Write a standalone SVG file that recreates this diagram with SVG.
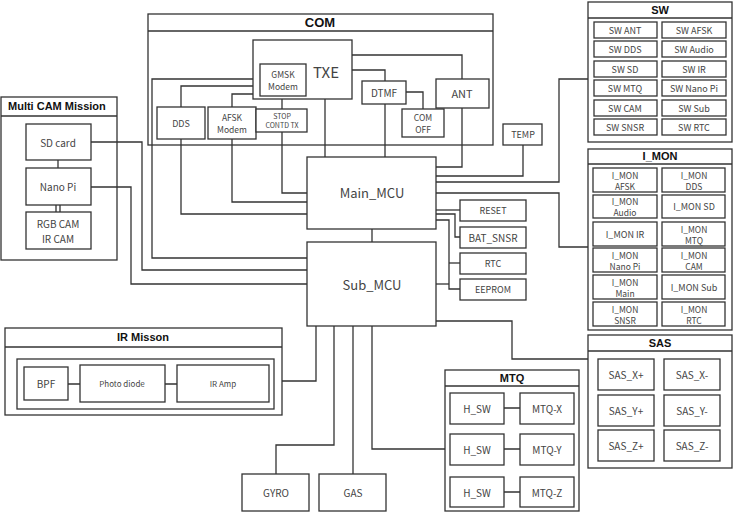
<svg xmlns="http://www.w3.org/2000/svg" width="733" height="512" viewBox="0 0 733 512">
<style>
rect{fill:#fff;stroke:#333;stroke-width:1.3}
rect.k{fill:none}
.c path,.c line{fill:none;stroke:#333;stroke-width:1.3}
line{stroke:#333;stroke-width:1.3}
text{font-family:"Noto Sans CJK JP","Liberation Sans",sans-serif;fill:#444;text-anchor:middle;dominant-baseline:central;font-size:10px}
.t{font-family:"Liberation Sans",Arial,sans-serif;font-weight:bold;fill:#111;font-size:11px}
.b{font-size:13px}
.s{font-size:8px}
.m{font-size:9px}
.n{font-size:8.5px}
</style>
<rect x="0" y="0" width="733" height="512" style="fill:#fff;stroke:none"/>
<g id="COM"><rect class="k" x="148" y="14" width="345" height="131"/><line x1="148" y1="31" x2="493" y2="31"/><text x="320" y="22" class="t" style="font-size:13px">COM</text></g>
<g id="MultiCAM"><rect class="k" x="1" y="97" width="116" height="163"/><line x1="1" y1="116" x2="117" y2="116"/><text x="8" y="106" class="t" style="text-anchor:start">Multi CAM Mission</text></g>
<g id="IR"><rect class="k" x="5" y="328" width="277" height="87"/><line x1="5" y1="347" x2="282" y2="347"/><text x="143" y="337" class="t">IR Misson</text><rect class="k" x="17" y="359" width="257" height="50"/></g>
<g id="SW"><rect class="k" x="588" y="2" width="144" height="140"/><line x1="588" y1="18" x2="732" y2="18"/><text x="660" y="10" class="t">SW</text></g>
<g id="I_MON"><rect class="k" x="588" y="149" width="144" height="181"/><line x1="588" y1="164" x2="732" y2="164"/><text x="660" y="156" class="t">I_MON</text></g>
<g id="SAS"><rect class="k" x="588" y="335" width="144" height="133"/><line x1="588" y1="351" x2="732" y2="351"/><text x="660" y="343" class="t">SAS</text></g>
<g id="MTQ"><rect class="k" x="445" y="370" width="134" height="141"/><line x1="445" y1="386" x2="579" y2="386"/><text x="512" y="378" class="t">MTQ</text></g>
<g class="c" id="connectors">
<path d="M260,79 H152 V258 H307"/>
<path d="M181,107 V86 H253"/>
<path d="M232,107 V94 H253"/>
<path d="M282,99 V109"/>
<path d="M352,70 H385 V81"/>
<path d="M352,55 H462 V79"/>
<path d="M406,92 H423 V109"/>
<path d="M325,99 V157"/>
<path d="M385,104 V157"/>
<path d="M462,108 V167 H436"/>
<path d="M372,229 V242"/>
<path d="M181,139 V214 H307"/>
<path d="M232,139 V202 H307"/>
<path d="M282,132 V193 H307"/>
<path d="M523,145 V176 H436"/>
<path d="M436,182 H559 V79 H588"/>
<path d="M436,193 H559 V247 H588"/>
<path d="M436,210 H460"/>
<path d="M436,214 H455 V237 H460"/>
<path d="M436,220 H449 V289 H460"/>
<path d="M449,263 H460"/>
<path d="M436,284 H449"/>
<path d="M91,142 H142 V270 H307"/>
<path d="M91,187 H131 V284 H307"/>
<path d="M58,160 V168"/>
<path d="M56,205 V212 M60,205 V212"/>
<path d="M68,384 H80 M165,384 H177"/>
<path d="M282,381 H316 V326"/>
<path d="M334,326 V445 H276 V474"/>
<path d="M353,326 V474"/>
<path d="M372,326 V449 H445"/>
<path d="M436,321 H512 V359 H588"/>
<path d="M504,408 H520 M504,449 H520 M504,492 H520"/>
</g>
<g id="TXE"><rect x="253" y="40" width="99" height="59"/><text x="326" y="71" style="font-size:15px">TXE</text></g>
<g id="GMSK"><rect x="260" y="64" width="46" height="32"/><text x="283" y="74" class="n">GMSK</text><text x="283" y="86" class="n">Modem</text></g>
<g id="DDS"><rect x="157" y="107" width="48" height="32"/><text x="181" y="123" class="m">DDS</text></g>
<g id="AFSK"><rect x="208" y="107" width="48" height="32"/><text x="232" y="117" class="n">AFSK</text><text x="232" y="129" class="n">Modem</text></g>
<g id="STOP"><rect x="256" y="109" width="51" height="23"/><text x="282" y="116" style="font-size:7px">STOP</text><text x="282" y="125" style="font-size:7px">CONTD TX</text></g>
<g id="DTMF"><rect x="362" y="81" width="44" height="23"/><text x="384" y="92">DTMF</text></g>
<g id="ANT"><rect x="436" y="79" width="53" height="29"/><text x="462" y="93" style="font-size:11px">ANT</text></g>
<g id="COMOFF"><rect x="402" y="109" width="42" height="28"/><text x="423" y="117" class="n">COM</text><text x="423" y="129" class="n">OFF</text></g>
<g id="TEMP"><rect x="503" y="124" width="39" height="21"/><text x="523" y="134" class="m">TEMP</text></g>
<g id="Main_MCU"><rect x="307" y="157" width="129" height="72"/><text x="372" y="192" class="b">Main_MCU</text></g>
<g id="Sub_MCU"><rect x="307" y="242" width="129" height="84"/><text x="372" y="284" class="b">Sub_MCU</text></g>
<g id="RESET"><rect x="460" y="200" width="66" height="21"/><text x="493" y="210" class="m">RESET</text></g>
<g id="BAT_SNSR"><rect x="460" y="227" width="66" height="21"/><text x="493" y="237">BAT_SNSR</text></g>
<g id="RTC"><rect x="460" y="253" width="66" height="21"/><text x="493" y="263" class="m">RTC</text></g>
<g id="EEPROM"><rect x="460" y="279" width="66" height="21"/><text x="493" y="289" class="m">EEPROM</text></g>
<g id="SDcard"><rect x="26" y="124" width="65" height="36"/><text x="58" y="142">SD card</text></g>
<g id="NanoPi"><rect x="26" y="168" width="65" height="37"/><text x="58" y="186">Nano Pi</text></g>
<g id="RGBCAM"><rect x="26" y="212" width="65" height="37"/><text x="58" y="223">RGB CAM</text><text x="58" y="238">IR CAM</text></g>
<g id="BPF"><rect x="24" y="367" width="44" height="33"/><text x="46" y="383">BPF</text></g>
<g id="Photodiode"><rect x="80" y="365" width="85" height="37"/><text x="122" y="383" class="s">Photo diode</text></g>
<g id="IRAmp"><rect x="177" y="365" width="92" height="37"/><text x="223" y="383" class="s">IR Amp</text></g>
<g id="GYRO"><rect x="242" y="474" width="67" height="37"/><text x="276" y="492">GYRO</text></g>
<g id="GAS"><rect x="319" y="474" width="67" height="37"/><text x="353" y="492">GAS</text></g>
<g id="SW_cells">
<rect x="594" y="22" width="63" height="16"/><text x="625" y="30" class="m">SW ANT</text>
<rect x="662" y="22" width="64" height="16"/><text x="694" y="30" class="m">SW AFSK</text>
<rect x="594" y="41" width="63" height="16"/><text x="625" y="49" class="m">SW DDS</text>
<rect x="662" y="41" width="64" height="16"/><text x="694" y="49" class="m">SW Audio</text>
<rect x="594" y="61" width="63" height="16"/><text x="625" y="69" class="m">SW SD</text>
<rect x="662" y="61" width="64" height="16"/><text x="694" y="69" class="m">SW IR</text>
<rect x="594" y="80" width="63" height="16"/><text x="625" y="88" class="m">SW MTQ</text>
<rect x="662" y="80" width="64" height="16"/><text x="694" y="88" class="m">SW Nano Pi</text>
<rect x="594" y="100" width="63" height="16"/><text x="625" y="108" class="m">SW CAM</text>
<rect x="662" y="100" width="64" height="16"/><text x="694" y="108" class="m">SW Sub</text>
<rect x="594" y="119" width="63" height="16"/><text x="625" y="127" class="m">SW SNSR</text>
<rect x="662" y="119" width="64" height="16"/><text x="694" y="127" class="m">SW RTC</text></g>
<g id="I_MON_cells">
<rect x="593" y="168" width="64" height="24"/><text x="625" y="175" class="n">I_MON</text><text x="625" y="186" class="n">AFSK</text>
<rect x="662" y="168" width="63" height="24"/><text x="694" y="175" class="n">I_MON</text><text x="694" y="186" class="n">DDS</text>
<rect x="593" y="195" width="64" height="23"/><text x="625" y="201" class="n">I_MON</text><text x="625" y="212" class="n">Audio</text>
<rect x="662" y="195" width="63" height="23"/><text x="694" y="206" class="m">I_MON  SD</text>
<rect x="593" y="222" width="64" height="24"/><text x="625" y="234" class="m">I_MON  IR</text>
<rect x="662" y="222" width="63" height="24"/><text x="694" y="229" class="n">I_MON</text><text x="694" y="240" class="n">MTQ</text>
<rect x="593" y="248" width="64" height="24"/><text x="625" y="255" class="n">I_MON</text><text x="625" y="266" class="n">Nano Pi</text>
<rect x="662" y="248" width="63" height="24"/><text x="694" y="255" class="n">I_MON</text><text x="694" y="266" class="n">CAM</text>
<rect x="593" y="275" width="64" height="24"/><text x="625" y="282" class="n">I_MON</text><text x="625" y="293" class="n">Main</text>
<rect x="662" y="275" width="63" height="24"/><text x="694" y="287" class="m">I_MON  Sub</text>
<rect x="593" y="302" width="64" height="24"/><text x="625" y="309" class="n">I_MON</text><text x="625" y="320" class="n">SNSR</text>
<rect x="662" y="302" width="63" height="24"/><text x="694" y="309" class="n">I_MON</text><text x="694" y="320" class="n">RTC</text></g>
<g id="SAS_cells">
<rect x="598" y="359" width="56" height="31"/><text x="626" y="374">SAS_X+</text>
<rect x="664" y="359" width="56" height="31"/><text x="692" y="374">SAS_X-</text>
<rect x="598" y="395" width="56" height="31"/><text x="626" y="410">SAS_Y+</text>
<rect x="664" y="395" width="56" height="31"/><text x="692" y="410">SAS_Y-</text>
<rect x="598" y="430" width="56" height="31"/><text x="626" y="445">SAS_Z+</text>
<rect x="664" y="430" width="56" height="31"/><text x="692" y="445">SAS_Z-</text></g>
<g id="MTQ_cells">
<rect x="450" y="393" width="54" height="31"/><text x="477" y="408">H_SW</text>
<rect x="520" y="393" width="54" height="31"/><text x="547" y="408">MTQ-X</text>
<rect x="450" y="434" width="54" height="31"/><text x="477" y="449">H_SW</text>
<rect x="520" y="434" width="54" height="31"/><text x="547" y="449">MTQ-Y</text>
<rect x="450" y="477" width="54" height="30"/><text x="477" y="492">H_SW</text>
<rect x="520" y="477" width="54" height="30"/><text x="547" y="492">MTQ-Z</text></g>
</svg>
